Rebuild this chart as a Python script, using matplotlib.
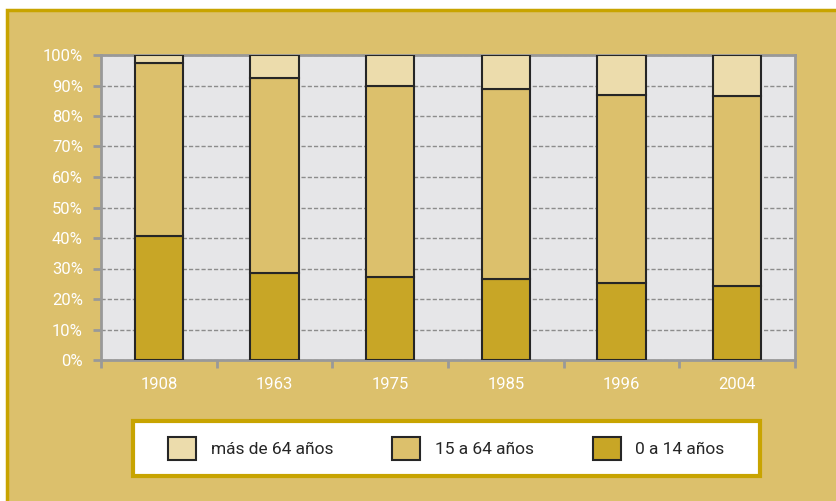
import matplotlib.pyplot as plt
import numpy as np
from matplotlib.patches import Rectangle

years = ['1908', '1963', '1975', '1985', '1996', '2004']
ninos = [40.7, 28.5, 27.2, 26.6, 25.2, 24.3]       # 0 a 14 años
adultos = [56.7, 64.0, 62.6, 62.1, 61.7, 62.1]     # 15 a 64 años
mayores = [2.6, 7.5, 10.2, 11.3, 13.1, 13.6]       # más de 64 años

c_may = '#ecdcac'
c_adu = '#dcc06c'
c_nin = '#c8a626'
bg = '#dcc06c'
gold = '#c8a400'

plt.rcParams['font.family'] = ['Roboto', 'DejaVu Sans']

fig = plt.figure(figsize=(8.37, 5.01), dpi=100)
fig.patch.set_facecolor('white')
# marco exterior
fig.patches.append(Rectangle((7 / 837, -0.05), 1.05, (491 / 501) + 0.05,
                             transform=fig.transFigure, facecolor=bg,
                             edgecolor=gold, linewidth=2.5, zorder=-5))
# caja de la leyenda
fig.patches.append(Rectangle((133 / 837, 25 / 501), 627 / 837, 55 / 501,
                             transform=fig.transFigure, facecolor='white',
                             edgecolor=gold, linewidth=3, zorder=-4))

ax = fig.add_axes([101 / 837, 141 / 501, 694 / 837, 305 / 501])
ax.set_facecolor('#e6e6e8')

x = np.arange(len(years))
w = 0.415
ninos = np.array(ninos)
adultos = np.array(adultos)
mayores = np.array(mayores)
kw = dict(width=w, edgecolor='#262626', linewidth=1.5, zorder=3)
b1 = ax.bar(x, ninos, color=c_nin, **kw)
b2 = ax.bar(x, adultos, bottom=ninos, color=c_adu, **kw)
b3 = ax.bar(x, mayores, bottom=ninos + adultos, color=c_may, **kw)

ax.set_xlim(-0.5, len(years) - 0.5)
ax.set_ylim(0, 100)
ax.set_yticks(np.arange(0, 101, 10))
ax.set_yticklabels([f'{v}%' for v in range(0, 101, 10)])
ax.yaxis.grid(True, linestyle=(0, (3, 1.5)), color='#8c8c8c', linewidth=1, zorder=1)

ax.set_xticks(x)
ax.set_xticklabels(years)
ax.set_xticks(np.arange(-0.5, len(years), 1), minor=True)
ax.tick_params(axis='x', which='major', length=0, pad=12, labelcolor='white', labelsize=12)
ax.tick_params(axis='x', which='minor', length=6, width=2, color='#999999')
ax.tick_params(axis='y', length=6, width=2, color='#999999', labelcolor='white',
               labelsize=12, pad=7)
for s in ax.spines.values():
    s.set_color('#999999')
    s.set_linewidth(2)

leg = fig.legend([b3, b2, b1], ['más de 64 años', '15 a 64 años', '0 a 14 años'],
                 loc='center', bbox_to_anchor=(446.5 / 837, 52.5 / 501),
                 ncol=3, fontsize=12.5, frameon=False,
                 handlelength=1.6, handleheight=1.6, handletextpad=0.85,
                 columnspacing=3.4, borderaxespad=0, borderpad=0)
for t in leg.get_texts():
    t.set_color('#262626')

fig.savefig('out.png', dpi=100, facecolor=fig.get_facecolor())
